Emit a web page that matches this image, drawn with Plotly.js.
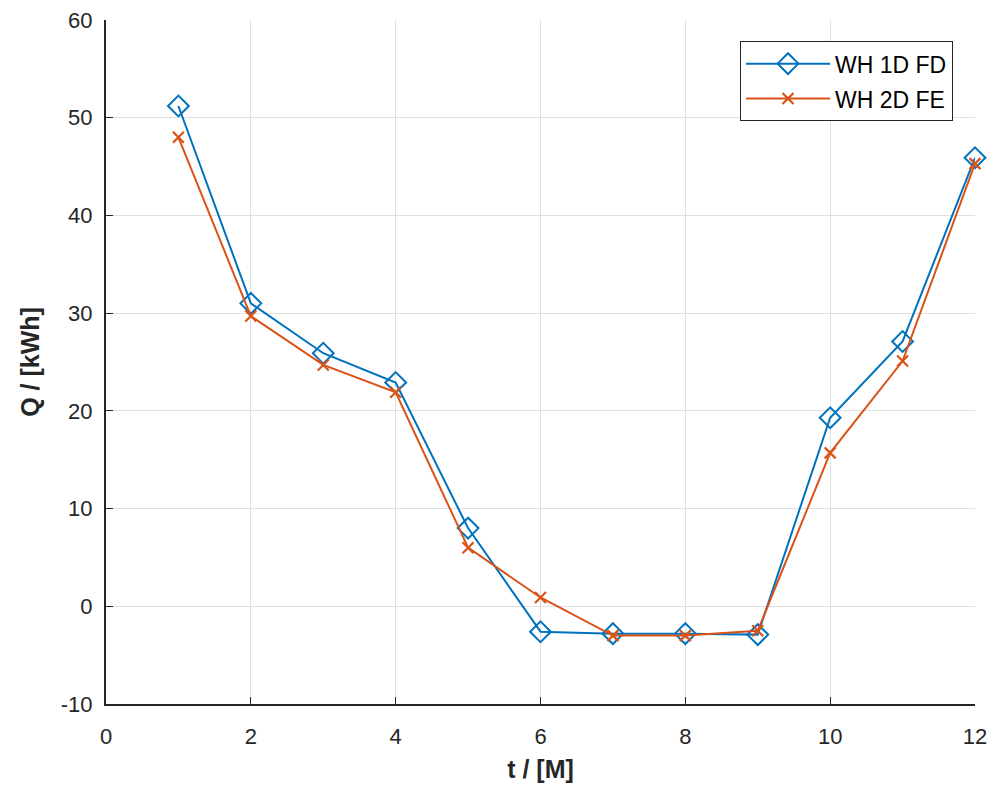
<!DOCTYPE html>
<html>
<head>
<meta charset="utf-8">
<script src="https://cdn.plot.ly/plotly-3.0.1.min.js"></script>
<style>
  html, body { margin: 0; padding: 0; background: #fff; }
  #chart { width: 994px; height: 789px; }
</style>
</head>
<body>
<div id="chart"></div>
<script>
// Months
const months = [1, 2, 3, 4, 5, 6, 7, 8, 9, 10, 11, 12];
// Heat quantity per month, kWh
const wh1dFD = [51.2, 31.0, 25.9, 22.9, 8.0, -2.6, -2.8, -2.8, -2.9, 19.3, 27.1, 45.9];
const wh2dFE = [48.0, 29.7, 24.7, 21.9, 6.0, 0.9, -3.0, -3.0, -2.5, 15.7, 25.1, 45.3];
const xTicks = [0, 2, 4, 6, 8, 10, 12];
const yTicks = [-10, 0, 10, 20, 30, 40, 50, 60];

const axisColor = '#262626';
const gridColor = '#e0e0e0';
const fontFamily = 'Liberation Sans, Arial, Helvetica, sans-serif';

const traces = [
  {
    x: months, y: wh1dFD, name: 'WH 1D FD', legendgroup: 'a',
    type: 'scatter', mode: 'lines+markers', cliponaxis: false,
    line: { color: '#0072BD', width: 2 },
    marker: { symbol: 'diamond-open', size: 16, color: '#0072BD', line: { width: 2, color: '#0072BD' } }
  },
  {
    x: months, y: wh2dFE, name: 'WH 2D FE', legendgroup: 'b',
    type: 'scatter', mode: 'lines+markers', cliponaxis: false,
    line: { color: '#D95319', width: 2 },
    marker: { symbol: 'x-thin', size: 11, color: '#D95319', line: { width: 2.2, color: '#D95319' } }
  }
];

const axisCommon = {
  showline: true, linecolor: axisColor, linewidth: 2,
  ticks: 'inside', ticklen: 7, tickwidth: 1, tickcolor: axisColor,
  showgrid: true, gridcolor: gridColor, gridwidth: 1,
  zeroline: false, mirror: false,
  tickfont: { family: fontFamily, size: 22, color: axisColor }
};

const layout = {
  width: 994, height: 789,
  margin: { l: 106, r: 19, t: 20, b: 85 },
  paper_bgcolor: '#ffffff', plot_bgcolor: '#ffffff',
  showlegend: true,
  xaxis: Object.assign({}, axisCommon, {
    range: [0, 12], tickvals: xTicks, ticktext: xTicks.map(String),
    ticklabelstandoff: 12,
    title: { text: '<b>t / [M]</b>', font: { family: fontFamily, size: 25, color: axisColor }, standoff: 12 }
  }),
  yaxis: Object.assign({}, axisCommon, {
    range: [-10, 60], tickvals: yTicks, ticktext: yTicks.map(String),
    ticklabelstandoff: 7,
    title: { text: '<b>Q / [kWh]</b>', font: { family: fontFamily, size: 25, color: axisColor }, standoff: 14 }
  }),
  legend: {
    x: 0.9747, y: 0.969, xanchor: 'right', yanchor: 'top',
    bgcolor: '#ffffff', bordercolor: axisColor, borderwidth: 1,
    font: { family: fontFamily, size: 23, color: '#000' },
    itemwidth: 84, tracegroupgap: 2
  }
};

Plotly.newPlot('chart', traces, layout, { displayModeBar: false, staticPlot: true });
</script>
</body>
</html>
